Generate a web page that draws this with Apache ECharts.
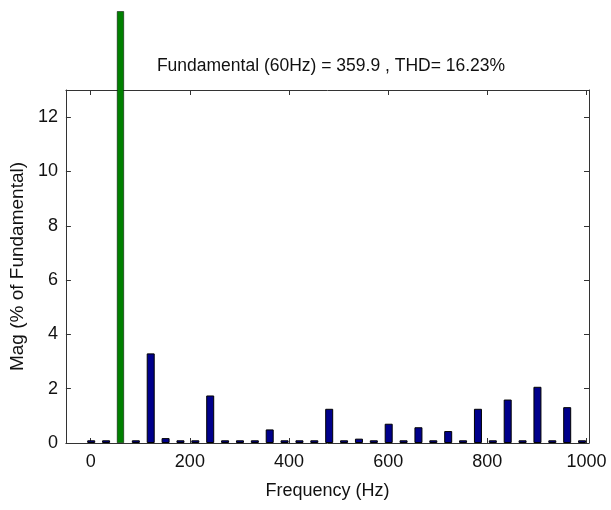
<!DOCTYPE html>
<html>
<head>
<meta charset="utf-8">
<script src="https://cdn.jsdelivr.net/npm/echarts@6/dist/echarts.min.js"></script>
<style>
  html, body { margin: 0; padding: 0; background: #fff; }
  #chart { width: 611px; height: 510px; }
</style>
</head>
<body>
<div id="chart"></div>
<script>
// harmonic bins, 30 Hz apart
const freqs = [0, 30, 60, 90, 120, 150, 180, 210, 240, 270, 300, 330, 360, 390, 420, 450, 480,
  510, 540, 570, 600, 630, 660, 690, 720, 750, 780, 810, 840, 870, 900, 930, 960, 990];
// magnitudes in % of fundamental (the 60 Hz bin runs off the top of the axes)
const mags = [0.1, 0.1, 15.9, 0.1, 3.3, 0.18, 0.1, 0.1, 1.75, 0.1, 0.1, 0.1, 0.5, 0.1, 0.1, 0.1, 1.26,
  0.1, 0.16, 0.1, 0.71, 0.1, 0.58, 0.1, 0.44, 0.1, 1.26, 0.1, 1.6, 0.1, 2.07, 0.1, 1.32, 0.1];
const fundamentalFreq = 60;
const xTicks = [0, 200, 400, 600, 800, 1000];
const yTicks = [0, 2, 4, 6, 8, 10, 12];

const FONT = "'Liberation Sans Narrow', 'Liberation Sans', Arial, sans-serif";
const AXIS_COLOR = '#333';

const chart = echarts.init(document.getElementById('chart'));

const harmonicData = [];
const fundamentalData = [];
freqs.forEach((f, i) => {
  if (f === fundamentalFreq) fundamentalData.push([f, mags[i]]);
  else harmonicData.push([f, mags[i]]);
});

// shared axis look: box frame, inward ticks
const xBase = {
  type: 'value',
  min: -50,
  max: 1005,
  splitLine: { show: false },
  axisLine: { show: true, onZero: false, lineStyle: { color: AXIS_COLOR, width: 1 } },
  axisTick: { show: true, inside: true, length: 5, customValues: xTicks, lineStyle: { color: AXIS_COLOR } },
};
const yBase = {
  type: 'value',
  min: 0,
  max: 13,
  splitLine: { show: false },
  axisLine: { show: true, onZero: false, lineStyle: { color: AXIS_COLOR, width: 1 } },
  axisTick: { show: true, inside: true, length: 5, customValues: yTicks, lineStyle: { color: AXIS_COLOR } },
};

chart.setOption({
  animation: false,
  backgroundColor: '#fff',
  title: {
    text: 'Fundamental (60Hz) = 359.9 , THD= 16.23%',
    left: 326,
    top: 52,
    textAlign: 'center',
    textStyle: { fontFamily: FONT, fontSize: 17.5, fontWeight: 'normal', color: '#111' },
  },
  grid: { left: 62, right: 22, top: 90, bottom: 67 },
  xAxis: [
    Object.assign({}, xBase, {
      position: 'bottom',
      name: 'Frequency (Hz)',
      nameLocation: 'middle',
      nameGap: 39,
      nameTextStyle: { fontFamily: FONT, fontSize: 18, color: '#111' },
      axisLabel: {
        show: true, customValues: xTicks, margin: 10,
        formatter: v => String(v),
        fontFamily: FONT, fontSize: 18, color: '#111',
      },
    }),
    Object.assign({}, xBase, { position: 'top', axisLabel: { show: false } }),
  ],
  yAxis: [
    Object.assign({}, yBase, {
      position: 'left',
      name: 'Mag (% of Fundamental)',
      nameLocation: 'middle',
      nameGap: 35,
      nameTextStyle: { fontFamily: FONT, fontSize: 19, color: '#111' },
      axisLabel: {
        show: true, customValues: yTicks, margin: 8,
        fontFamily: FONT, fontSize: 18, color: '#111',
      },
    }),
    Object.assign({}, yBase, { position: 'right', axisLabel: { show: false } }),
  ],
  series: [
    {
      name: 'harmonics',
      type: 'bar',
      data: harmonicData,
      barWidth: 8,
      itemStyle: { color: '#00008b', borderColor: '#000', borderWidth: 1 },
    },
    {
      name: 'fundamental',
      type: 'bar',
      data: fundamentalData,
      barWidth: 7,
      barGap: '-100%',
      clip: false,
      z: 5,
      itemStyle: { color: '#008000', borderColor: '#000', borderWidth: 0.5 },
    },
  ],
});
</script>
</body>
</html>
